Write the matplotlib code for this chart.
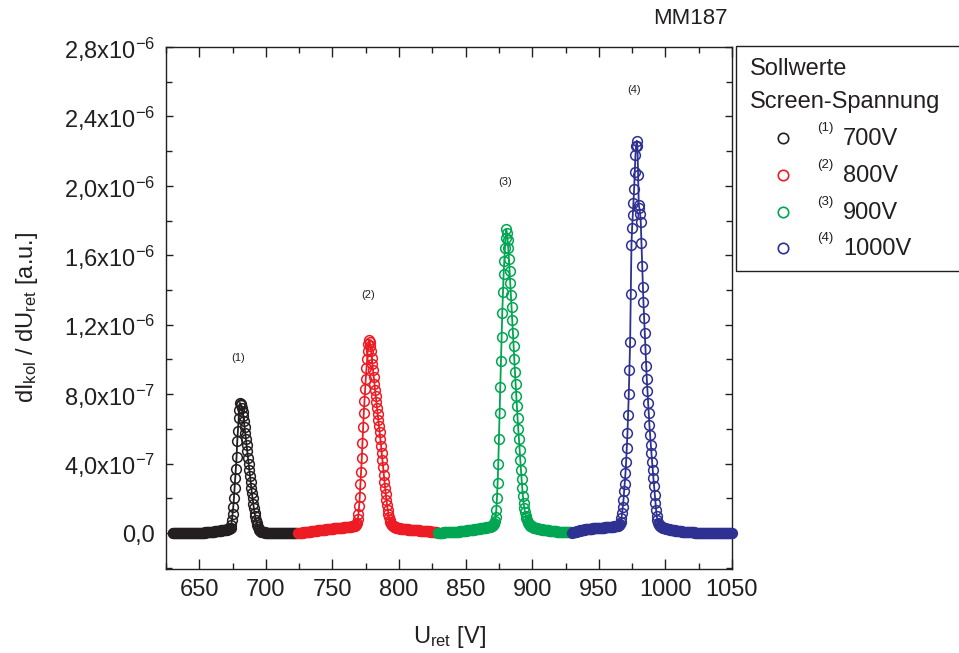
import numpy as np
import matplotlib
matplotlib.use('Agg')
import matplotlib.pyplot as plt
from matplotlib.lines import Line2D
from matplotlib.patches import Rectangle
from matplotlib.ticker import MultipleLocator, FixedLocator, FixedFormatter

plt.rcParams['font.family'] = ['Liberation Sans', 'DejaVu Sans']
plt.rcParams['mathtext.fontset'] = 'custom'
plt.rcParams['mathtext.rm'] = 'Liberation Sans'
plt.rcParams['mathtext.it'] = 'Liberation Sans:italic'
plt.rcParams['mathtext.bf'] = 'Liberation Sans:bold'
plt.rcParams['mathtext.default'] = 'regular'

# ---------------- data ----------------
# retarding voltage grid: start [V] and step [V] of each measurement
u_start = [630.0, 724.0, 829.0, 930.0]
u_step = 0.5
unit = 1e-7  # values below are in units of 1e-7

# (1) 700 V
y_700 = [
    0.00, 0.00, 0.00, 0.00, 0.00, 0.00, 0.00, 0.00, 0.00, 0.00,
    0.00, 0.00, 0.00, 0.00, 0.00, 0.00, 0.00, 0.00, 0.00, 0.00,
    0.00, 0.00, 0.00, 0.00, 0.00, 0.00, 0.00, 0.00, 0.00, 0.00,
    0.00, 0.00, 0.00, 0.00, 0.00, 0.00, 0.00, 0.00, 0.00, 0.00,
    0.01, 0.01, 0.01, 0.02, 0.02, 0.02, 0.03, 0.03, 0.03, 0.04,
    0.04, 0.04, 0.05, 0.05, 0.05, 0.06, 0.06, 0.07, 0.07, 0.08,
    0.08, 0.09, 0.09, 0.10, 0.10, 0.11, 0.11, 0.12, 0.12, 0.13,
    0.13, 0.14, 0.14, 0.15, 0.15, 0.16, 0.17, 0.17, 0.18, 0.19,
    0.20, 0.20, 0.21, 0.22, 0.23, 0.25,
    0.28, 0.32, 0.46, 0.75, 1.10, 1.50, 2.00, 2.60, 3.15, 3.70,
    4.40, 5.30, 5.90, 6.60, 7.10, 7.50,
    7.45, 7.35, 7.20, 7.00, 6.75, 6.45, 6.10, 5.75, 5.40, 5.05,
    4.70, 4.35, 4.00, 3.65, 3.30, 2.95, 2.60, 2.30, 2.00, 1.70,
    1.42, 1.18, 0.96, 0.76, 0.60, 0.46, 0.35, 0.26, 0.19, 0.14,
    0.10, 0.08, 0.06,
    0.05, 0.05, 0.04, 0.04, 0.03, 0.03, 0.02, 0.02, 0.02, 0.01,
    0.01, 0.01,
    0.00, 0.00, 0.00, 0.00, 0.00, 0.00, 0.00, 0.00, 0.00, 0.00,
    0.00, 0.00, 0.00, 0.00, 0.00, 0.00, 0.00, 0.00, 0.00, 0.00,
    0.00, 0.00, 0.00, 0.00, 0.00, 0.00, 0.00, 0.00, 0.00, 0.00,
    0.00, 0.00, 0.00, 0.00, 0.00, 0.00, 0.00, 0.00, 0.00, 0.00,
]

# (2) 800 V
y_800 = [
    0.00, 0.00, 0.01, 0.01, 0.02, 0.02, 0.03, 0.03, 0.04, 0.04,
    0.05, 0.05, 0.06, 0.06, 0.07, 0.07, 0.08, 0.08, 0.09, 0.09,
    0.10, 0.10, 0.11, 0.11, 0.12, 0.12, 0.13, 0.13, 0.14, 0.14,
    0.15, 0.15, 0.16, 0.16, 0.17, 0.17, 0.18, 0.18, 0.19, 0.19,
    0.20, 0.20, 0.21, 0.21, 0.22, 0.22, 0.23, 0.23, 0.24, 0.24,
    0.25, 0.25, 0.26, 0.26, 0.27, 0.27, 0.28, 0.28, 0.29, 0.29,
    0.30, 0.30, 0.30, 0.31, 0.31, 0.31, 0.32, 0.32, 0.32, 0.33,
    0.33, 0.33, 0.34, 0.34, 0.34, 0.35, 0.35, 0.35, 0.36, 0.36,
    0.37, 0.38, 0.39,
    0.40, 0.41, 0.42, 0.43, 0.45, 0.50, 0.60, 0.80, 1.10, 1.55,
    2.10, 2.80, 3.50, 4.30, 5.20, 6.10, 6.90, 7.60, 8.30, 8.90,
    9.50, 10.00, 10.50, 10.90, 11.10,
    11.00, 10.80, 10.50, 10.10, 9.75, 9.40, 9.00, 8.60, 8.25, 7.90,
    7.55, 7.20, 6.85, 6.50, 6.15, 5.80, 5.40, 5.00, 4.60, 4.20,
    3.80, 3.35, 2.95, 2.60, 2.25, 1.90, 1.60, 1.33, 1.10, 0.90,
    0.75, 0.62, 0.54, 0.48, 0.45, 0.42, 0.39, 0.37, 0.35, 0.33,
    0.32, 0.31, 0.30, 0.29, 0.28, 0.27, 0.26, 0.26, 0.25, 0.25,
    0.24, 0.24, 0.23, 0.23, 0.22, 0.22, 0.21, 0.21, 0.20, 0.20,
    0.19, 0.19, 0.19, 0.18, 0.18, 0.18, 0.17, 0.17, 0.17, 0.16,
    0.16, 0.16, 0.15, 0.15, 0.15, 0.14, 0.14, 0.14, 0.13, 0.13,
    0.13, 0.12, 0.12, 0.12, 0.11, 0.11, 0.11, 0.10, 0.10, 0.10,
    0.10, 0.09, 0.09, 0.09, 0.09, 0.08, 0.08, 0.08, 0.08, 0.08, 0.07,
]

# (3) 900 V
y_900 = [
    0.02, 0.02, 0.02, 0.02, 0.03, 0.03, 0.03, 0.03, 0.03, 0.04,
    0.04, 0.04, 0.04, 0.04, 0.05, 0.05, 0.05, 0.05, 0.05, 0.06,
    0.06, 0.06, 0.06, 0.07, 0.07, 0.07, 0.07, 0.08, 0.08, 0.08,
    0.09, 0.09, 0.09, 0.10, 0.10, 0.10, 0.11, 0.11, 0.12, 0.12,
    0.13, 0.13, 0.14, 0.14, 0.15, 0.15, 0.16, 0.16, 0.17, 0.17,
    0.18, 0.18, 0.19, 0.19, 0.20, 0.21, 0.21, 0.22, 0.23, 0.23,
    0.24, 0.25, 0.25, 0.26, 0.27, 0.27, 0.28, 0.29, 0.29, 0.30,
    0.31, 0.31, 0.32, 0.33, 0.33, 0.34, 0.35, 0.35, 0.36, 0.37,
    0.38, 0.39,
    0.42, 0.45, 0.50, 0.58, 0.70, 0.95, 1.35, 2.00, 2.90, 4.00,
    5.40, 6.90, 8.40, 9.90, 11.30, 12.70, 13.90, 14.90, 15.70, 16.40,
    17.00, 17.50,
    17.30, 16.90, 16.40, 15.80, 15.10, 14.40, 13.70, 13.00, 12.30, 11.50,
    10.80, 10.00, 9.30, 8.60, 7.90, 7.30, 6.60, 6.00, 5.40, 4.80,
    4.20, 3.65, 3.10, 2.60, 2.15, 1.75, 1.45, 1.20, 1.00, 0.85,
    0.73, 0.63, 0.56, 0.50, 0.46, 0.43, 0.40, 0.38, 0.36, 0.34,
    0.32, 0.31, 0.30, 0.29, 0.28, 0.27, 0.26, 0.25, 0.24, 0.23,
    0.22, 0.21, 0.21, 0.20, 0.19, 0.19, 0.18, 0.17, 0.17, 0.16,
    0.16, 0.15, 0.15, 0.14, 0.14, 0.13, 0.13, 0.12, 0.12, 0.11,
    0.11, 0.11, 0.10, 0.10, 0.10, 0.09, 0.09, 0.09, 0.08, 0.08,
    0.08, 0.08, 0.07, 0.07, 0.07, 0.07, 0.06, 0.06, 0.06, 0.06,
    0.06, 0.05, 0.05, 0.05, 0.05, 0.05, 0.05,
]

# (4) 1000 V
y_1000 = [
    0.03, 0.04, 0.05, 0.06, 0.07, 0.08, 0.09, 0.10, 0.11, 0.12,
    0.13, 0.14, 0.15, 0.16, 0.17, 0.18, 0.19, 0.20, 0.20, 0.21,
    0.21, 0.22, 0.22, 0.23, 0.23, 0.24, 0.24, 0.25, 0.25, 0.26,
    0.26, 0.27, 0.27, 0.27, 0.28, 0.28, 0.28, 0.29, 0.29, 0.29,
    0.30, 0.30, 0.30, 0.31, 0.31, 0.31, 0.32, 0.32, 0.32, 0.33,
    0.33, 0.33, 0.34, 0.34, 0.34, 0.35, 0.35, 0.35, 0.36, 0.36,
    0.36, 0.37, 0.37, 0.38, 0.38, 0.39, 0.39, 0.40,
    0.40, 0.42, 0.44, 0.48, 0.55, 0.65, 0.85, 1.15, 1.50, 1.90,
    2.40, 2.85, 3.45, 4.10, 4.90, 5.75, 6.80, 8.00, 9.40, 11.00,
    13.80, 16.60, 17.60, 18.30, 19.00, 19.80, 20.80, 21.80, 22.30, 22.60,
    22.30, 20.60, 18.90, 18.70, 18.40, 17.90, 16.70, 15.40, 14.20, 13.30,
    12.40, 11.50, 10.60, 9.60, 8.90, 8.20, 7.50, 6.90, 6.20, 5.65,
    5.10, 4.60, 4.10, 3.65, 3.15, 2.70, 2.20, 1.75, 1.35, 1.00,
    0.75, 0.60, 0.50, 0.45, 0.41, 0.38, 0.36, 0.34, 0.32, 0.30,
    0.29, 0.28, 0.27, 0.26, 0.25, 0.24, 0.23, 0.22, 0.21, 0.20,
    0.19, 0.18, 0.18, 0.17, 0.16, 0.16, 0.15, 0.14, 0.14, 0.13,
    0.13, 0.12, 0.12, 0.11, 0.11, 0.10, 0.10, 0.09, 0.09, 0.08,
    0.08, 0.08, 0.07, 0.07, 0.07, 0.06, 0.06, 0.06, 0.05, 0.05,
    0.05, 0.05, 0.04, 0.04, 0.04, 0.04, 0.03, 0.03, 0.03, 0.03,
    0.03, 0.02, 0.02, 0.02, 0.02, 0.02, 0.02, 0.01, 0.01, 0.01,
    0.01, 0.01, 0.01, 0.01, 0.00, 0.00, 0.00, 0.00, 0.00, 0.00,
    0.00, 0.00, 0.00, 0.00, 0.00, 0.00, 0.00, 0.00, 0.00, 0.00,
    0.00, 0.00, 0.00, 0.00, 0.00, 0.00, 0.00, 0.00, 0.00, 0.00,
    0.00, 0.00, 0.00, 0.00, 0.00, 0.00, 0.00, 0.00, 0.00, 0.00,
    0.00, 0.00, 0.00,
]

series = [y_700, y_800, y_900, y_1000]
series_labels = ['700V', '800V', '900V', '1000V']
series_tags = ['(1)', '(2)', '(3)', '(4)']
series_colors = ['#231f20', '#ed1c24', '#00a651', '#2e3192']

# peak annotation positions (U [V], value)
tag_u = [679.0, 776.5, 880.0, 976.5]
tag_v = [10.1e-7, 13.7e-7, 20.2e-7, 25.5e-7]

x_ticks = [650, 700, 750, 800, 850, 900, 950, 1000, 1050]
y_ticks = [0.0, 4e-7, 8e-7, 1.2e-6, 1.6e-6, 2.0e-6, 2.4e-6, 2.8e-6]
y_ticklabels = ['0,0', '4,0x10$^{-7}$', '8,0x10$^{-7}$', '1,2x10$^{-6}$',
                '1,6x10$^{-6}$', '2,0x10$^{-6}$', '2,4x10$^{-6}$', '2,8x10$^{-6}$']

# ---------------- figure ----------------
W, H = 959, 653
fig = plt.figure(figsize=(W / 100, H / 100), dpi=100)
ax = fig.add_axes([166 / W, 1 - 569 / H, (732 - 166) / W, (569 - 47) / H])

txt_col = '#231f20'
FS = 17
for ys, col, st in zip(series, series_colors, u_start):
    yv = np.array(ys) * unit
    xv = st + u_step * np.arange(len(yv))
    ax.plot(xv, yv, color=col, lw=1.3, marker='o', ms=7.0, mew=1.1,
            mfc='none', mec=col, clip_on=False, zorder=3)

for u, v, t in zip(tag_u, tag_v, series_tags):
    ax.text(u, v, t, fontsize=8, ha='center', va='center', color=txt_col)

ax.set_xlim(625, 1050)
ax.set_ylim(-2.07e-7, 2.8e-6)
ax.xaxis.set_major_locator(FixedLocator(x_ticks))
ax.xaxis.set_minor_locator(MultipleLocator(25))
ax.yaxis.set_major_locator(FixedLocator(y_ticks))
ax.yaxis.set_major_formatter(FixedFormatter(y_ticklabels))
ax.yaxis.set_minor_locator(MultipleLocator(2e-7))

ax.tick_params(axis='x', which='major', direction='in', length=7, width=1,
               top=True, pad=7, labelsize=FS, colors=txt_col)
ax.tick_params(axis='x', which='minor', direction='in', length=4, width=1,
               top=True, colors=txt_col)
ax.tick_params(axis='y', which='major', direction='in', length=5, width=1,
               right=True, pad=8, labelsize=FS, colors=txt_col)
ax.tick_params(axis='y', which='minor', direction='in', length=4, width=1,
               right=True, colors=txt_col)
for s in ax.spines.values():
    s.set_linewidth(1.0)
    s.set_color(txt_col)

fig.text(449 / W, 1 - 637 / H, 'U$_{ret}$ [V]', fontsize=FS, ha='center',
         va='center', color=txt_col)
fig.text(27 / W, 1 - 317 / H, 'dI$_{kol}$ / dU$_{ret}$ [a.u.]', fontsize=FS,
         rotation=90, ha='center', va='center', color=txt_col)
fig.text(690 / W, 1 - 18 / H, 'MM187', fontsize=16, ha='center', va='center',
         color=txt_col)

# legend box
fig.patches.append(Rectangle((736 / W, 1 - 271 / H), (970 - 736) / W, (271 - 46) / H,
                             transform=fig.transFigure, fill=False,
                             edgecolor=txt_col, lw=1.0))
fig.text(750 / W, 1 - 69 / H, 'Sollwerte', fontsize=FS, ha='left',
         va='center', color=txt_col)
fig.text(750 / W, 1 - 102 / H, 'Screen-Spannung', fontsize=FS, ha='left',
         va='center', color=txt_col)
leg_y = [138, 175, 212, 248]
for yy, col, lab, tag in zip(leg_y, series_colors, series_labels, series_tags):
    fig.lines.append(Line2D([783 / W], [1 - yy / H], transform=fig.transFigure,
                            marker='o', ms=7.5, mew=1.2, mfc='none', mec=col,
                            ls='none'))
    fig.text(817 / W, 1 - (yy - 10) / H, tag, fontsize=9.5, ha='left',
             va='center', color=txt_col)
    fig.text(843 / W, 1 - (yy + 1) / H, lab, fontsize=FS, ha='left',
             va='center', color=txt_col)

fig.savefig('out.png', dpi=100)
